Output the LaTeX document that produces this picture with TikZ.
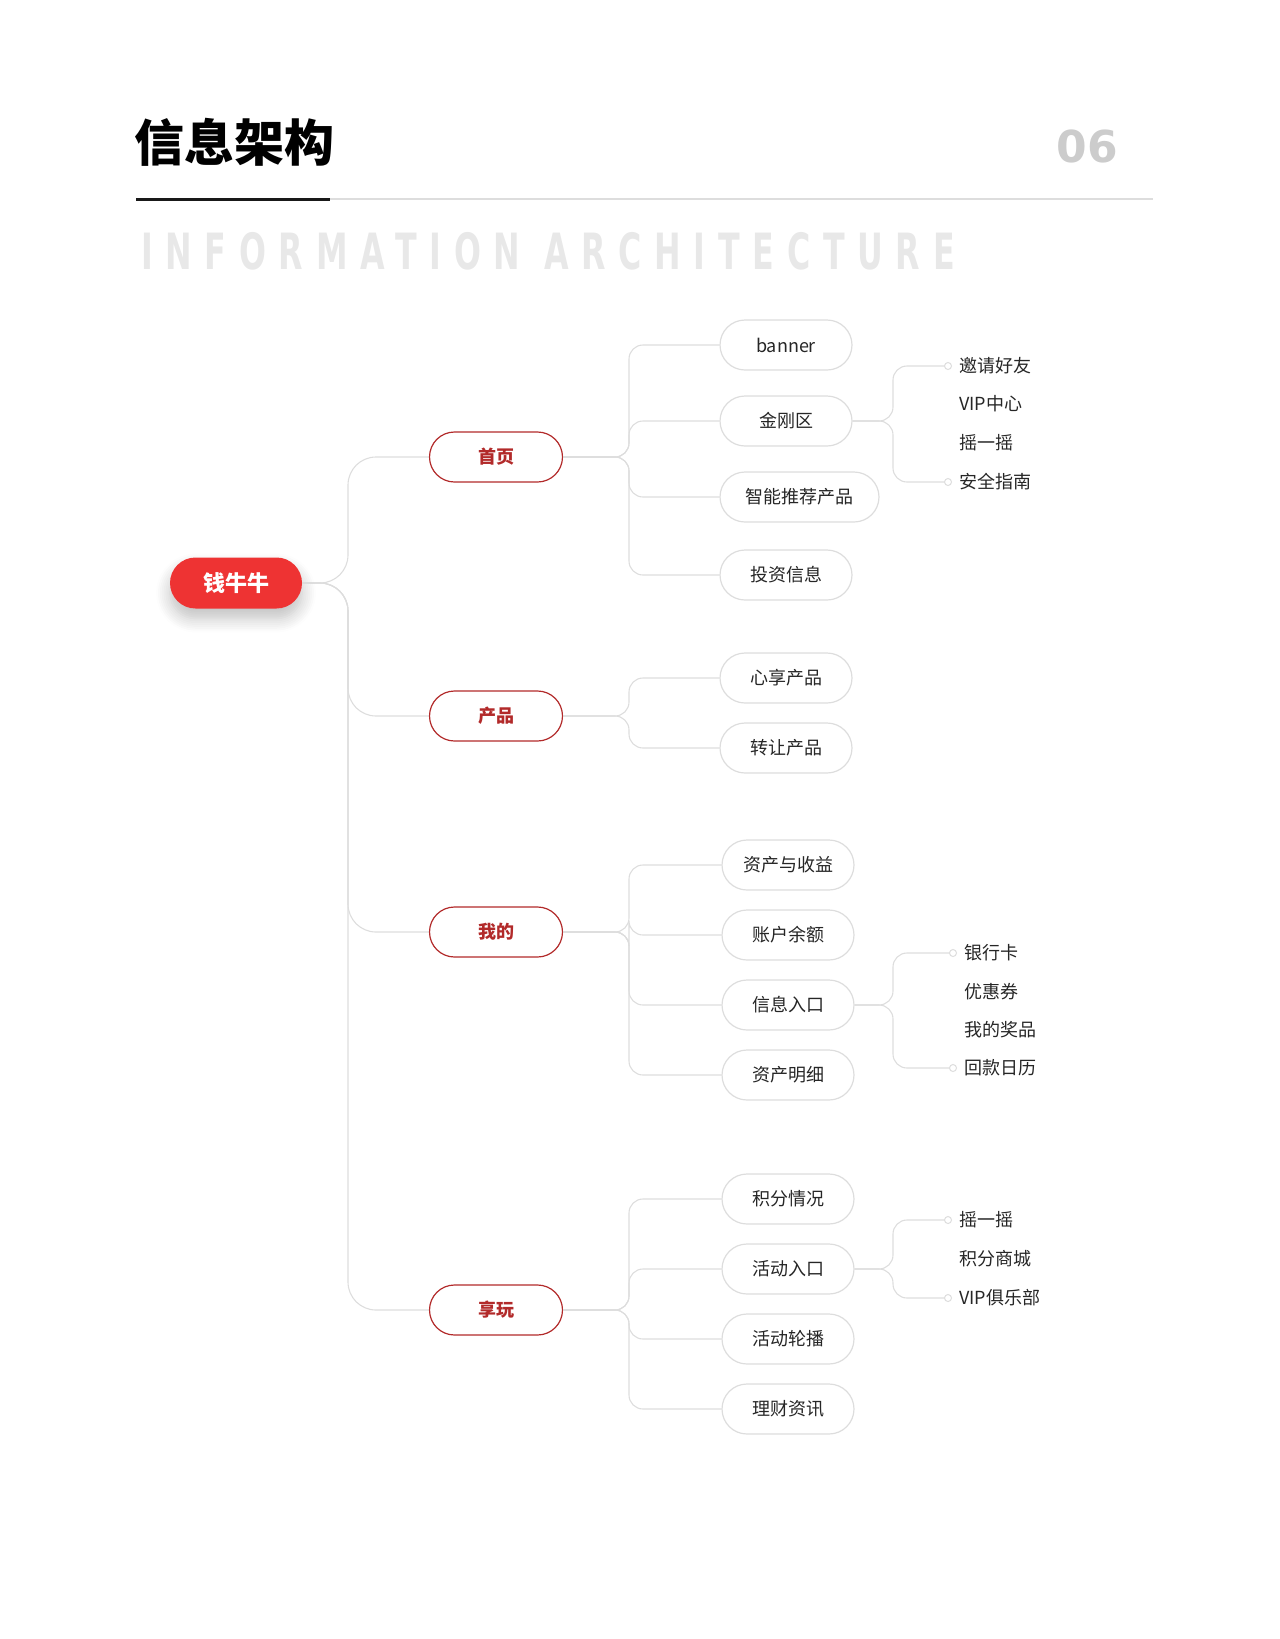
\documentclass[tikz,border=0pt]{standalone}
\usepackage{fontspec}
\setmainfont{Noto Sans CJK SC}
\newfontfamily\latinf{DejaVu Sans}
\usetikzlibrary{shadows.blur}
\definecolor{lg}{HTML}{DDDDDD}
\definecolor{dr}{HTML}{B22A2A}
\definecolor{rr}{HTML}{EE3333}
\tikzset{
 rootbox/.style={rounded corners=25.5pt,fill=rr,minimum width=132pt,minimum height=51pt,text=white,font=\fontsize{22}{22}\selectfont\bfseries,blur shadow={shadow blur steps=8,shadow xshift=0pt,shadow yshift=-10pt,shadow opacity=25,shadow blur radius=14pt}},
 lonebox/.style={draw=dr,line width=1.2pt,rounded corners=25pt,minimum width=133pt,minimum height=50pt,text=dr,font=\fontsize{18}{18}\selectfont\bfseries},
 ltwobox/.style={draw=lg,line width=1.2pt,fill=white,rounded corners=25pt,minimum width=132pt,minimum height=50pt,text=black!85,font=\fontsize{18}{18}\selectfont},
 lthree/.style={anchor=west,inner sep=0pt,text=black!85,font=\fontsize{18}{18}\selectfont},
 conn/.style={draw=lg,line width=1.1pt,rounded corners=28pt},
 connb/.style={draw=lg,line width=1.1pt,rounded corners=14pt},
 dotc/.style={circle,draw=lg,line width=1pt,fill=white,inner sep=0pt,minimum size=7pt},
}
\begin{document}
\begin{tikzpicture}[x=1pt,y=-1pt]
\useasboundingbox (0,0) rectangle (1280,1639);
\node[anchor=west,inner sep=0pt,font=\fontsize{50}{50}\selectfont\bfseries] (title) at (134,142) {信息架构};
\node[anchor=east,inner sep=0pt,text=black!20,font=\latinf\fontsize{44}{44}\selectfont\bfseries] (num) at (1118,146) {06};
\coordinate (la) at (136,199); \coordinate (lb) at (330,199); \coordinate (lc) at (1153,199);
\draw[lg,line width=1.5pt] (lb) -- (lc);
\draw[black!90,line width=3pt] (la) -- (lb);
\node[anchor=west,inner sep=0pt,text=black!9,font=\latinf\fontsize{50}{50}\selectfont\bfseries,xscale=0.635] (sub) at (141,251) {\addfontfeature{LetterSpace=40}INFORMATION ARCHITECTURE};

\node[rootbox] (root) at (236,583) {钱牛牛};
\node[lonebox] (a) at (496,457) {首页};
\node[lonebox] (b) at (496,716) {产品};
\node[lonebox] (c) at (496,932) {我的};
\node[lonebox] (d) at (496,1310) {享玩};
\foreach \n in {a,b,c,d} \draw[conn] (root.east) -- (348,583) |- (\n.west);

\node[ltwobox] (a1) at (786,345) {banner};
\node[ltwobox] (a2) at (786,421) {金刚区};
\node[ltwobox,minimum width=159pt] (a3) at (799.5,497) {智能推荐产品};
\node[ltwobox] (a4) at (786,575) {投资信息};
\node[ltwobox] (b1) at (786,678) {心享产品};
\node[ltwobox] (b2) at (786,748) {转让产品};
\node[ltwobox] (c1) at (788,865) {资产与收益};
\node[ltwobox] (c2) at (788,935) {账户余额};
\node[ltwobox] (c3) at (788,1005) {信息入口};
\node[ltwobox] (c4) at (788,1075) {资产明细};
\node[ltwobox] (d1) at (788,1199) {积分情况};
\node[ltwobox] (d2) at (788,1269) {活动入口};
\node[ltwobox] (d3) at (788,1339) {活动轮播};
\node[ltwobox] (d4) at (788,1409) {理财资讯};
\foreach \p/\k in {a/a1,a/a2,a/a3,a/a4,b/b1,b/b2,c/c1,c/c2,c/c3,c/c4,d/d1,d/d2,d/d3,d/d4}
  \draw[connb] (\p.east) -- (629,0|-\p.east) |- (\k.west);

\node[lthree] (e1) at (959,366) {邀请好友};
\node[lthree] (e2) at (959,404) {VIP中心};
\node[lthree] (e3) at (959,443) {摇一摇};
\node[lthree] (e4) at (959,482) {安全指南};
\node[lthree] (f1) at (964,953) {银行卡};
\node[lthree] (f2) at (964,992) {优惠券};
\node[lthree] (f3) at (964,1030) {我的奖品};
\node[lthree] (f4) at (964,1068) {回款日历};
\node[lthree] (g1) at (959,1220) {摇一摇};
\node[lthree] (g2) at (959,1259) {积分商城};
\node[lthree] (g3) at (959,1298) {VIP俱乐部};
\foreach \p/\k in {a2/e1,a2/e4,c3/f1,c3/f4,d2/g1,d2/g3}{
  \node[dotc] (o\k) at ([xshift=-11pt]\k.west) {};
  \draw[connb] (\p.east) -- (893,0|-\p.east) |- (o\k.west);
}
\end{tikzpicture}
\end{document}
